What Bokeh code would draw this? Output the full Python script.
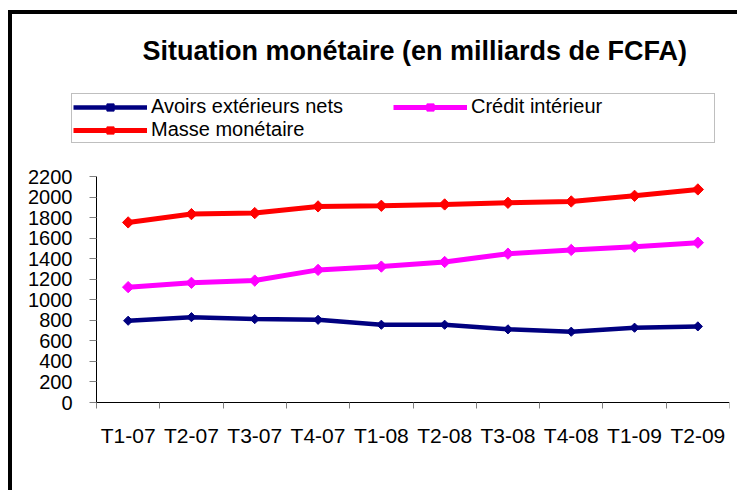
import numpy as np
from bokeh.plotting import figure
from bokeh.models import (Legend, LegendItem, Range1d, LinearAxis,
                          FixedTicker)
from bokeh.embed import file_html
from bokeh.resources import INLINE

# ---- data ----
quarters = ["T1-07", "T2-07", "T3-07", "T4-07", "T1-08",
            "T2-08", "T3-08", "T4-08", "T1-09", "T2-09"]
avoirs = [796, 831, 812, 805, 757, 757, 712, 689, 728, 741]
credit = [1123, 1165, 1187, 1291, 1323, 1368, 1449, 1485, 1517, 1556]
masse = [1753, 1834, 1844, 1909, 1915, 1928, 1944, 1957, 2012, 2074]
y_ticks = list(range(0, 2201, 200))
series_names = ["Avoirs extérieurs nets", "Crédit intérieur", "Masse monétaire"]
title_text = "Situation monétaire (en milliards de FCFA)"

FONT = "Liberation Sans"

# ---- layout (pixels) ----
W, H = 737, 490
FRAME_L, FRAME_R, FRAME_T, FRAME_B = 20, 729, 90, 480
AXIS_L = 96             # pixel where the category axis starts
AXIS_TOP = 176          # pixel where the value axis ends (its top tick)
AXIS_BOTTOM = 402       # pixel of the value 0

n = len(quarters)
y_max = y_ticks[-1]
px_per_unit = (AXIS_BOTTOM - AXIS_TOP) / y_max
y_end = (AXIS_BOTTOM - FRAME_T) / px_per_unit
y_start = -(FRAME_B - AXIS_BOTTOM) / px_per_unit
x_start = -n * (AXIS_L - FRAME_L) / (FRAME_R - AXIS_L)

xc = (np.arange(n) + 0.5).tolist()
bounds = list(range(n + 1))

p = figure(width=W, height=H, output_backend="svg", toolbar_location=None,
           x_range=Range1d(x_start, n), y_range=Range1d(y_start, y_end),
           x_axis_type=None, y_axis_type=None,
           title=title_text,
           min_border_left=FRAME_L, min_border_right=W - FRAME_R,
           min_border_top=FRAME_T, min_border_bottom=H - FRAME_B,
           background_fill_color="white", border_fill_color="white",
           border_fill_alpha=0.0,
           outline_line_color=None,
           styles={"box-shadow": "inset 0 10px 0 0 white, inset 8px 0 0 0 white, "
                                 "inset 12px 0 0 0 black, inset 0 14px 0 0 black"})
p.xgrid.visible = False
p.ygrid.visible = False
p.title.align = "left"
p.title.offset = 142 - FRAME_L
p.title.text_font = FONT
p.title.text_font_size = "27px"
p.title.text_font_style = "bold"
p.title.text_color = "black"
p.title.standoff = 49

# axes (placed at the data origin so their labels stay inside the frame)
xaxis = LinearAxis(ticker=FixedTicker(ticks=xc, minor_ticks=bounds),
                   bounds=(0, n), fixed_location=0,
                   major_label_overrides={v: q for v, q in zip(xc, quarters)})
xaxis.major_tick_out = 0
xaxis.major_tick_in = 0
xaxis.minor_tick_out = 6
xaxis.minor_tick_in = 0
xaxis.minor_tick_line_color = "#808080"
xaxis.axis_line_color = "black"
xaxis.major_label_text_font = FONT
xaxis.major_label_text_font_size = "21px"
xaxis.major_label_text_color = "black"
xaxis.major_label_standoff = 15
p.add_layout(xaxis, "below")

yaxis = LinearAxis(ticker=FixedTicker(ticks=y_ticks, minor_ticks=[]),
                   bounds=(y_ticks[0], y_ticks[-1]), fixed_location=0)
yaxis.major_tick_out = 7
yaxis.major_tick_in = 0
yaxis.major_tick_line_color = "#808080"
yaxis.minor_tick_line_color = None
yaxis.axis_line_color = "black"
yaxis.major_label_text_font = FONT
yaxis.major_label_text_font_size = "20px"
yaxis.major_label_text_color = "black"
yaxis.major_label_standoff = 17
p.add_layout(yaxis, "left")

colors = ["#000080", "#FF00FF", "#FF0000"]
data = [avoirs, credit, masse]
widths = [4.5, 5, 5]
msizes = [6.5, 8, 8]
items = {}
for name, ys, c, w, ms in zip(series_names, data, colors, widths, msizes):
    r1 = p.line(xc, ys, line_color=c, line_width=w)
    r2 = p.scatter(xc, ys, marker="square", angle=np.pi / 4, size=ms,
                   fill_color=c, line_color=c)
    items[name] = LegendItem(label=name, renderers=[r1, r2])

# column-wise fill: first column Avoirs / Masse, second column Crédit
legend = Legend(items=[items[series_names[0]], items[series_names[2]],
                       items[series_names[1]]],
                orientation="vertical", nrows=2,
                location=(71 - FRAME_L, FRAME_B - 143))
legend.label_text_font = FONT
legend.label_text_font_size = "20px"
legend.label_text_line_height = 1.0
legend.label_text_color = "black"
legend.glyph_width = 74
legend.glyph_height = 18
legend.label_standoff = 4
legend.label_width = 242
legend.label_height = 18
legend.padding = 1
legend.spacing = 0
legend.margin = 0
legend.border_line_color = "#808080"
legend.border_line_width = 1
legend.background_fill_color = "white"
p.add_layout(legend, "center")

open("out.html", "w").write(file_html(p, INLINE))
